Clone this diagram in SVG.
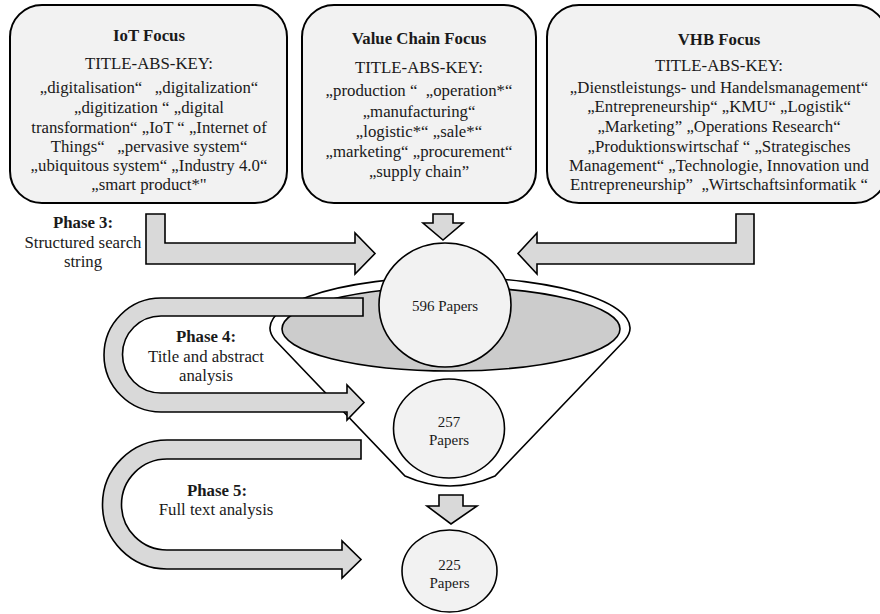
<svg xmlns="http://www.w3.org/2000/svg" width="880" height="614" viewBox="0 0 880 614">
<style>
text{font-family:"Liberation Serif","Times New Roman",serif;font-size:16.8px;fill:#1a1a1a;text-anchor:middle}
.b{font-weight:bold}
.box{fill:#f2f2f2;stroke:#000;stroke-width:2}
.arr{fill:#d9d9d9;stroke:#000;stroke-width:1.6;stroke-linejoin:miter}
.circ{fill:#f2f2f2;stroke:#000;stroke-width:1.6}
.p{font-size:15px}
</style>
<rect width="880" height="614" fill="#fff"/>
<g id="funnel">
<path d="M275,340 L405,476 Q450,496 495,476 L625,340 A180,51 0 1 0 275,340 Z" fill="#fff" stroke="#000" stroke-width="1.6"/>
<ellipse cx="451" cy="329" rx="169" ry="42" fill="#cccccc" stroke="#000" stroke-width="1.6"/>
</g>
<g id="iot">
<rect class="box" x="10" y="5" width="277" height="198" rx="32"/>
<text class="b" x="149" y="41">IoT Focus</text>
<text x="149" y="69">TITLE-ABS-KEY:</text>
<text x="149" y="93" xml:space="preserve">„digitalisation“   „digitalization“</text>
<text x="149" y="113">„digitization “ „digital</text>
<text x="149" y="133">transformation“ „IoT “ „Internet of</text>
<text x="149" y="152" xml:space="preserve">Things“   „pervasive system“</text>
<text x="149" y="171">„ubiquitous system“ „Industry 4.0“</text>
<text x="149" y="190">„smart product*"</text>
</g>
<g id="valuechain">
<rect class="box" x="302" y="5" width="234" height="198" rx="32"/>
<text class="b" x="419" y="44">Value Chain Focus</text>
<text x="419" y="73">TITLE-ABS-KEY:</text>
<text x="419" y="96" xml:space="preserve">„production “  „operation*“</text>
<text x="419" y="117">„manufacturing“</text>
<text x="419" y="137">„logistic*“ „sale*“</text>
<text x="419" y="157">„marketing“ „procurement“</text>
<text x="419" y="177">„supply chain”</text>
</g>
<g id="vhb">
<rect class="box" x="547" y="5" width="340" height="198" rx="32"/>
<text class="b" x="719" y="45">VHB Focus</text>
<text x="719" y="71">TITLE-ABS-KEY:</text>
<text x="719" y="93">„Dienstleistungs- und Handelsmanagement“</text>
<text x="719" y="112">„Entrepreneurship“ „KMU“ „Logistik“</text>
<text x="719" y="132">„Marketing” „Operations Research“</text>
<text x="719" y="152">„Produktionswirtschaf “ „Strategisches</text>
<text x="719" y="171">Management“ „Technologie, Innovation und</text>
<text x="719" y="190" xml:space="preserve">Entrepreneurship”  „Wirtschaftsinformatik “</text>
</g>
<g id="connectors">
<path class="arr" d="M146,214 L165,214 L165,243 L355,243 L355,233 L375,253.5 L355,274 L355,264 L146,264 Z"/>
<path class="arr" d="M433,214 L453,214 L453,223 L463,223 L443,240 L423,223 L433,223 Z"/>
<path class="arr" d="M754,214 L736,214 L736,243 L537,243 L537,233 L518,253.5 L537,274 L537,264 L754,264 Z"/>
<path class="arr" d="M363,298 L161,298 A57,57 0 0 0 161,412 L347,412 L347,420 L364,402.5 L347,385 L347,393 L161,393 A38.5,38.5 0 0 1 161,316 L363,316 Z"/>
<path class="arr" d="M361,440 L167,440 A64.5,64.5 0 0 0 167,569 L342,569 L342,578 L361,559.5 L342,541 L342,550 L167,550 A45.5,45.5 0 0 1 167,459 L361,459 Z"/>
<path class="arr" d="M439,495 L463,495 L463,506 L477,506 L451,524 L427,506 L439,506 Z"/>
</g>
<g id="c596">
<ellipse class="circ" cx="445" cy="305" rx="66" ry="62"/>
<text class="p" x="445" y="311">596 Papers</text>
</g>
<g id="c257">
<ellipse class="circ" cx="449" cy="428.5" rx="55.5" ry="49.5"/>
<text class="p" x="449" y="427">257</text>
<text class="p" x="449" y="445">Papers</text>
</g>
<g id="c225">
<ellipse class="circ" cx="449.5" cy="571" rx="47.5" ry="41"/>
<text class="p" x="449.5" y="570">225</text>
<text class="p" x="449.5" y="588">Papers</text>
</g>
<g id="labels">
<text class="b" x="83" y="228">Phase 3:</text>
<text x="83" y="248">Structured search</text>
<text x="83" y="267">string</text>
<text class="b" x="206" y="342">Phase 4:</text>
<text x="206" y="362">Title and abstract</text>
<text x="206" y="381">analysis</text>
<text class="b" x="217" y="496">Phase 5:</text>
<text x="216" y="515">Full text analysis</text>
</g>
</svg>
